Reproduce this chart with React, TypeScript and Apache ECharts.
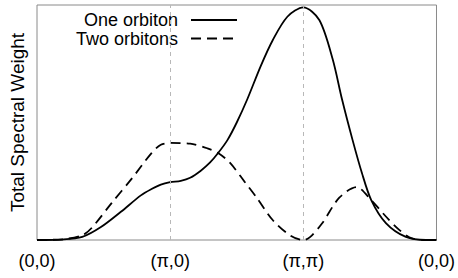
import React, { useEffect, useRef } from "react";
import * as echarts from "echarts";

const tickLabels = ["(0,0)", "(π,0)", "(π,π)", "(0,0)"];
const seriesNames = ["One orbiton", "Two orbitons"];

const oneX = [0, 0.19, 0.34, 0.48, 0.63, 0.78, 0.86, 0.93, 1.0, 1.08, 1.15, 1.23, 1.3, 1.36, 1.43, 1.5, 1.58, 1.68, 1.77, 1.88, 2.0, 2.12, 2.22, 2.29, 2.37, 2.44, 2.51, 2.62, 2.77, 2.92, 3.0];
const oneY = [0, 0.002, 0.013, 0.055, 0.12, 0.19, 0.217, 0.236, 0.246, 0.252, 0.265, 0.295, 0.33, 0.37, 0.425, 0.5, 0.6, 0.74, 0.85, 0.95, 0.99, 0.936, 0.77, 0.6, 0.425, 0.285, 0.17, 0.072, 0.013, 0, 0];

const twoX = [0, 0.19, 0.34, 0.41, 0.56, 0.71, 0.86, 0.93, 1.0, 1.15, 1.28, 1.36, 1.45, 1.56, 1.65, 1.77, 1.9, 2.0, 2.05, 2.14, 2.27, 2.4, 2.51, 2.62, 2.72, 2.81, 2.9, 3.0];
const twoY = [0, 0.003, 0.02, 0.051, 0.157, 0.26, 0.37, 0.405, 0.413, 0.41, 0.39, 0.37, 0.328, 0.247, 0.18, 0.085, 0.02, 0, 0.012, 0.07, 0.18, 0.225, 0.17, 0.1, 0.043, 0.008, 0, 0];

const markers = [1, 2];

export default function App() {
  const ref = useRef<HTMLDivElement>(null);
  useEffect(() => {
    document.body.style.margin = "0";
    const chart = echarts.init(ref.current!, null, { renderer: "svg" });
    const font = "Liberation Sans, Arial, sans-serif";
    const legendRows = [
      { y: 20, dash: null as null | number[] },
      { y: 38.5, dash: [10, 6] },
    ];
    chart.setOption({
      animation: false,
      backgroundColor: "#fff",
      grid: {
        left: 35,
        right: 20,
        top: 5,
        bottom: 38,
        show: true,
        borderColor: "#8a8a8a",
        borderWidth: 1,
      },
      graphic: legendRows.flatMap((r, i) => [
        {
          type: "text",
          x: 178,
          y: r.y,
          style: {
            text: seriesNames[i],
            fontSize: 18,
            lineHeight: 17,
            fontFamily: font,
            fill: "#000",
            align: "right",
            verticalAlign: "middle",
          },
        },
        {
          type: "line",
          shape: { x1: 191, y1: r.y, x2: 237, y2: r.y },
          style: { stroke: "#000", lineWidth: 1.8, lineDash: r.dash ?? undefined },
        },
      ]),
      xAxis: {
        type: "value",
        min: 0,
        max: 3,
        interval: 1,
        axisLine: { show: false },
        axisTick: { show: false },
        splitLine: { show: false },
        axisLabel: {
          fontSize: 18,
          fontFamily: font,
          color: "#000",
          margin: 12,
          formatter: (v: number) => tickLabels[Math.round(v)] ?? "",
        },
      },
      yAxis: {
        type: "value",
        min: 0,
        max: 1,
        name: "Total Spectral Weight",
        nameLocation: "middle",
        nameRotate: 90,
        nameGap: 10,
        nameTextStyle: { fontSize: 19, fontFamily: font, color: "#000" },
        axisLine: { show: false },
        axisTick: { show: false },
        splitLine: { show: false },
        axisLabel: { show: false },
      },
      series: [
        {
          name: seriesNames[0],
          type: "line",
          symbol: "none",
          smooth: 0.3,
          lineStyle: { color: "#000", width: 1.8 },
          itemStyle: { color: "#000" },
          data: oneX.map((x, i) => [x, oneY[i]]),
          markLine: {
            silent: true,
            symbol: "none",
            label: { show: false },
            lineStyle: { color: "#b8b8b8", type: [4, 4], width: 1 },
            data: markers.map((m) => ({ xAxis: m })),
          },
          z: 3,
        },
        {
          name: seriesNames[1],
          type: "line",
          symbol: "none",
          smooth: 0.3,
          lineStyle: { color: "#000", width: 1.8, type: [10, 6] },
          itemStyle: { color: "#000" },
          data: twoX.map((x, i) => [x, twoY[i]]),
          z: 3,
        },
      ],
    });
    return () => chart.dispose();
  }, []);
  return (
    <div
      ref={ref}
      style={{ position: "fixed", left: 0, top: 0, width: 458, height: 278 }}
    />
  );
}
